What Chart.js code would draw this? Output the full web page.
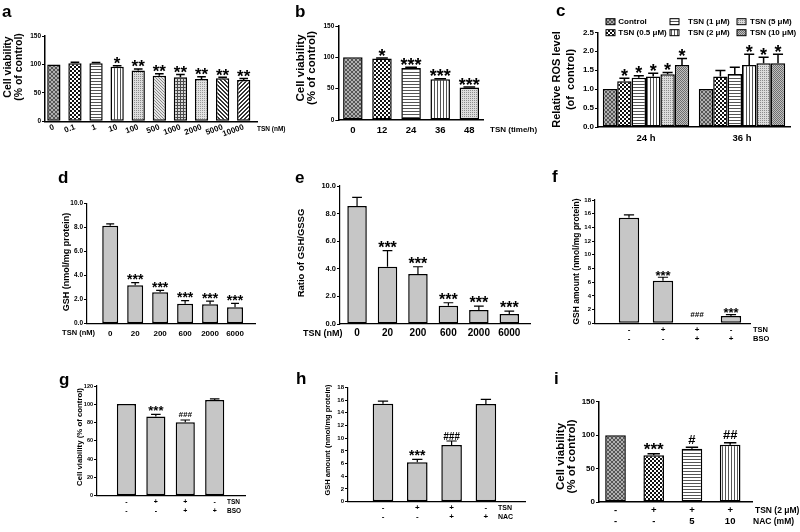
<!DOCTYPE html>
<html><head><meta charset="utf-8">
<script src="https://cdn.jsdelivr.net/npm/chart.js@4.4.1/dist/chart.umd.min.js"></script>
<style>
html,body{margin:0;padding:0;background:#fff;width:800px;height:532px;overflow:hidden;position:relative}
canvas{position:absolute}
</style></head><body>
<script>
// ---------- DATA ----------
const aLabels = ['0','0.1','1','10','100','500','1000','2000','5000','10000'];
const aValues = [100, 102, 102, 96, 89.5, 80, 77.5, 74.5, 75.5, 72.8];
const aErrors = [0, 2, 1.2, 1.8, 2.3, 3.5, 5, 4, 1.8, 2.3];
const aMarks  = ['', '', '', '*', '**', '**', '**', '**', '**', '**'];
const aYTicks = [0, 50, 100, 150];
const aYLabels = ['0', '50', '100', '150'];

const bLabels = ['0','12','24','36','48'];
const bValues = [100, 98, 83, 65, 52];
const bErrors = [0, 1, 1, 0.8, 0.8];
const bMarks  = ['', '*', '***', '***', '***'];
const bYTicks = [0, 50, 100, 150];
const bYLabels = ['0', '50', '100', '150'];

const cGroups = ['24 h', '36 h'];
const cSeries = ['Control', 'TSN (0.5 μM)', 'TSN (1 μM)', 'TSN (2 μM)', 'TSN (5 μM)', 'TSN (10 μM)'];
const cValues = [[1.0, 1.0], [1.21, 1.33], [1.30, 1.40], [1.33, 1.64], [1.39, 1.68], [1.64, 1.68]];
const cErrors = [[0, 0], [0.08, 0.16], [0.05, 0.18], [0.09, 0.28], [0.05, 0.16], [0.17, 0.24]];
const cMarks  = [['', ''], ['*', ''], ['*', ''], ['*', '*'], ['*', '*'], ['*', '*']];
const cYTicks = [0, 0.5, 1.0, 1.5, 2.0, 2.5];
const cYLabels = ['0.0', '0.5', '1.0', '1.5', '2.0', '2.5'];

const dLabels = ['0','20','200','600','2000','6000'];
const dValues = [8.14, 3.19, 2.61, 1.66, 1.61, 1.36];
const dErrors = [0.15, 0.22, 0.16, 0.25, 0.27, 0.33];
const dMarks  = ['', '***', '***', '***', '***', '***'];
const dYTicks = [0, 2, 4, 6, 8, 10];
const dYLabels = ['0.0', '2.0', '4.0', '6.0', '8.0', '10.0'];

const eLabels = ['0','20','200','600','2000','6000'];
const eValues = [8.55, 4.15, 3.62, 1.33, 1.01, 0.72];
const eErrors = [0.63, 1.16, 0.53, 0.21, 0.29, 0.22];
const eMarks  = ['', '***', '***', '***', '***', '***'];
const eYTicks = [0, 2, 4, 6, 8, 10];
const eYLabels = ['0.0', '2.0', '4.0', '6.0', '8.0', '10.0'];

const fLabels = [['-','-'], ['+','-'], ['+','+'], ['-','+']];
const fValues = [15.42, 6.22, 0, 1.07];
const fErrors = [0.4, 0.5, 0, 0.2];
const fMarks  = ['', '***', '###', '***'];
const fYTicks = [0, 2, 4, 6, 8, 10, 12, 14, 16, 18];
const fYLabels = ['0','2','4','6','8','10','12','14','16','18'];

const gLabels = [['-','-'], ['+','-'], ['+','+'], ['-','+']];
const gValues = [100.3, 86.5, 80.3, 104.7];
const gErrors = [0, 2.5, 2.5, 1.2];
const gMarks  = ['', '***', '###', ''];
const gYTicks = [0, 20, 40, 60, 80, 100, 120];
const gYLabels = ['0','20','40','60','80','100','120'];

const hLabels = [['-','-'], ['+','-'], ['+','+'], ['-','+']];
const hValues = [15.42, 6.2, 8.92, 15.37];
const hErrors = [0.4, 0.47, 0.63, 0.73];
const hMarks  = ['', '***', '###', ''];
const hYTicks = [0, 2, 4, 6, 8, 10, 12, 14, 16, 18];
const hYLabels = ['0','2','4','6','8','10','12','14','16','18'];

const iLabels = [['-','-'], ['+','-'], ['+','5'], ['+','10']];
const iValues = [100, 69.8, 79.7, 85.7];
const iErrors = [0, 2.5, 2, 3];
const iMarks  = ['', '***', '#', '##'];
const iYTicks = [0, 50, 100, 150];
const iYLabels = ['0', '50', '100', '150'];

// ---------- STYLE HELPERS ----------
const FAM = '"Liberation Sans", Arial, sans-serif';
Chart.defaults.font.family = FAM;

function tile(w, h, bg, fg, cells) {
  const cv = document.createElement('canvas'); cv.width = w; cv.height = h;
  const g = cv.getContext('2d');
  g.fillStyle = bg; g.fillRect(0, 0, w, h); g.fillStyle = fg;
  cells.forEach(([x, y, cw, ch]) => g.fillRect(x, y, cw || 1, ch || 1));
  return g.createPattern(cv, 'repeat');
}
const PT = {
  dark:   tile(4,4,'#b0b0b0','#555',[[0,0],[3,0],[1,1],[2,1],[2,2],[1,2],[3,3],[0,3]]),
  checker:tile(4,4,'#fff','#111',[[0,0,2,2],[2,2,2,2]]),
  hlines: tile(3,3,'#fff','#555',[[0,0,3,1]]),
  vlines: tile(3,3,'#fff','#555',[[0,0,1,3]]),
  light:  tile(2,2,'#dcdcdc','#8c8c8c',[[0,0]]),
  medium: tile(2,2,'#c0c0c0','#6e6e6e',[[0,0],[1,1]]),
  diagf:  tile(3,3,'#e4e4e4','#8a8a8a',[[0,0],[1,1],[2,2]]),
  grid:   tile(3,3,'#d8d8d8','#4a4a4a',[[0,0,3,1],[0,0,1,3]]),
  dots:   tile(2,2,'#e2e2e2','#9a9a9a',[[0,0]]),
  bslash: tile(4,4,'#fff','#333',[[0,0],[1,0],[1,1],[2,1],[2,2],[3,2],[3,3],[0,3]]),
  fslash: tile(4,4,'#fff','#333',[[3,0],[2,0],[2,1],[1,1],[1,2],[0,2],[0,3],[3,3]])
};
const GRAY = '#c6c6c6';

function drawTxt(ctx, t, p) {
  ctx.save();
  ctx.font = (t.style ? t.style + ' ' : '') + 'bold ' + t.fs + 'px ' + FAM;
  ctx.fillStyle = '#000';
  ctx.textAlign = t.align || 'left';
  ctx.textBaseline = t.base || 'middle';
  ctx.translate(t.x - p.L, t.y - p.T);
  if (t.rot) ctx.rotate(t.rot * Math.PI / 180);
  ctx.fillText(t.t, 0, 0);
  ctx.restore();
}

function decoPlugin(p) {
  return {
    id: 'deco_' + p.id,
    afterDatasetsDraw(chart) {
      const ctx = chart.ctx, ys = chart.scales.y;
      ctx.save();
      p.series.forEach((s, di) => {
        const meta = chart.getDatasetMeta(di);
        meta.data.forEach((bar, i) => {
          const v = s.values[i], e = s.errors[i];
          const yv = ys.getPixelForValue(v), yt = ys.getPixelForValue(v + e);
          if (e > 0) {
            const hw = bar.width * p.cap / 2;
            ctx.beginPath();
            ctx.moveTo(bar.x, yv); ctx.lineTo(bar.x, yt);
            ctx.moveTo(bar.x - hw, yt); ctx.lineTo(bar.x + hw, yt);
            ctx.lineWidth = p.errW; ctx.strokeStyle = '#000'; ctx.stroke();
          }
          const m = s.marks[i];
          if (m) {
            const star = m[0] === '*';
            const fs = star ? p.starFs : p.hashFs;
            const gap = star ? p.starGap : p.hashGap;
            ctx.font = ((!star && p.hashItalic) ? 'italic ' : '') + 'bold ' + fs + 'px ' + FAM;
            ctx.fillStyle = '#000'; ctx.textAlign = 'center'; ctx.textBaseline = 'alphabetic';
            ctx.fillText(m, bar.x, yt - gap + (star ? 0.55 : 0.36) * fs);
          }
        });
      });
      (p.legend || []).forEach(it => {
        ctx.fillStyle = it.fill;
        ctx.fillRect(it.bx - p.L, it.y - p.T - 3, 9, 6);
        ctx.lineWidth = 1; ctx.strokeStyle = '#000';
        ctx.strokeRect(it.bx - p.L, it.y - p.T - 3, 9, 6);
        drawTxt(ctx, {t: it.name, x: it.tx, y: it.y, fs: 8}, p);
      });
      (p.texts || []).forEach(t => drawTxt(ctx, t, p));
      ctx.restore();
    }
  };
}

function buildPanel(p) {
  const c = document.createElement('canvas');
  c.width = p.W; c.height = p.H;
  Object.assign(c.style, {left: p.L + 'px', top: p.T + 'px', width: p.W + 'px', height: p.H + 'px'});
  document.body.appendChild(c);
  const [x0, y0, x1, y1] = p.area;
  const yW = x0 - p.L, xH = p.T + p.H - y1;
  const cat = p.xType === 'category';
  const xScale = {
    type: cat ? 'category' : 'linear',
    offset: cat,
    grid: {display: false, drawTicks: false},
    border: {display: true, color: '#000', width: p.axW},
    afterFit: s => { s.height = xH; },
    ticks: {font: {family: FAM, size: p.xFs, weight: 'bold', lineHeight: p.xLh || 1.2}, color: '#000',
            padding: p.xPad, autoSkip: false, maxRotation: p.xRot || 0, minRotation: p.xRot || 0}
  };
  if (!cat) {
    xScale.min = p.xmin; xScale.max = p.xmax;
    xScale.afterBuildTicks = s => { s.ticks = p.xLabels.map((_, i) => ({value: i})); };
    xScale.ticks.callback = (v) => p.xLabels[v];
  }
  const yScale = {
    type: 'linear',
    min: p.yTicks[0], max: p.yTicks[p.yTicks.length - 1],
    afterBuildTicks: s => { s.ticks = p.yTicks.map(v => ({value: v})); },
    afterFit: s => { s.width = yW; },
    grid: {display: true, drawOnChartArea: false, drawTicks: true, tickLength: 3, color: '#000', lineWidth: 1},
    border: {display: true, color: '#000', width: p.axW},
    ticks: {font: {family: FAM, size: p.yFs, weight: 'bold'}, color: '#000', padding: 1, autoSkip: false,
            callback: (v, i) => p.yLabels[i]}
  };
  const datasets = p.series.map(s => ({
    label: s.name || '',
    data: cat ? s.values : s.values.map((v, i) => ({x: i, y: v})),
    backgroundColor: s.fills,
    borderColor: '#000',
    borderWidth: p.bw || 1.5,
    borderSkipped: false,
    barPercentage: p.barPct,
    categoryPercentage: p.catPct || 1
  }));
  new Chart(c, {
    type: 'bar',
    data: cat ? {labels: p.xLabels, datasets} : {datasets},
    options: {
      responsive: false, animation: false, devicePixelRatio: 1,
      layout: {padding: {left: 0, top: y0 - p.T, right: p.L + p.W - x1, bottom: 0}},
      plugins: {legend: {display: false}, tooltip: {enabled: false}},
      scales: {x: xScale, y: yScale}
    },
    plugins: [decoPlugin(p)]
  });
}

const rot = -90;
// ---------- PANELS ----------
buildPanel({id:'a', L:0, T:0, W:300, H:160, area:[45, 36, 257, 121.3],
  xmin:-0.42, xmax:9.63, xLabels:aLabels, xFs:8, xRot:20, xPad:1,
  yTicks:aYTicks, yLabels:aYLabels, yFs:6.5, axW:1.5, barPct:0.63, cap:0.65, errW:1.5,
  starFs:17, starGap:6,
  series:[{values:aValues, errors:aErrors, marks:aMarks,
    fills:[PT.dark, PT.checker, PT.hlines, PT.vlines, PT.light, PT.diagf, PT.grid, PT.dots, PT.bslash, PT.fslash]}],
  texts:[{t:'a', x:2, y:16.5, fs:17, base:'alphabetic'},
    {t:'Cell viability', x:8.5, y:67, fs:10.5, rot, align:'center'},
    {t:'(% of control)', x:19.5, y:67, fs:10.5, rot, align:'center'},
    {t:'TSN (nM)', x:257, y:129, fs:6.5}]});

buildPanel({id:'b', L:260, T:0, W:285, H:160, area:[338.3, 26, 483, 120],
  xmin:-0.5, xmax:4.47, xLabels:bLabels, xFs:9.5, xPad:4.3,
  yTicks:bYTicks, yLabels:bYLabels, yFs:6.5, axW:1.5, barPct:0.67, cap:0.6, errW:1.5,
  starFs:18, starGap:6.3,
  series:[{values:bValues, errors:bErrors, marks:bMarks,
    fills:[PT.dark, PT.checker, PT.hlines, PT.vlines, PT.light]}],
  texts:[{t:'b', x:295, y:17, fs:17, base:'alphabetic'},
    {t:'Cell viability', x:301, y:68, fs:11.5, rot, align:'center'},
    {t:'(% of control)', x:311.5, y:68, fs:11.5, rot, align:'center'},
    {t:'TSN (time/h)', x:490, y:130, fs:8}]});

const cFills = [PT.dark, PT.checker, PT.hlines, PT.vlines, PT.light, PT.medium];
const cBoxX = [606, 670, 737], cTxtX = [618.3, 688, 750], cRowY = [21.7, 32.7];
buildPanel({id:'c', L:530, T:0, W:270, H:160, area:[598, 32.3, 790, 127],
  xType:'category', xLabels:cGroups, xFs:9.5, xPad:5.6,
  yTicks:cYTicks, yLabels:cYLabels, yFs:8, axW:1.5, barPct:1, catPct:0.9, cap:0.7, errW:1.5,
  starFs:18, starGap:6.4,
  series:cSeries.map((n, k) => ({name:n, values:cValues[k], errors:cErrors[k], marks:cMarks[k], fills:cFills[k]})),
  legend:cSeries.map((n, k) => ({name:n, fill:cFills[k], bx:cBoxX[Math.floor(k/2)], tx:cTxtX[Math.floor(k/2)], y:cRowY[k%2]})),
  texts:[{t:'c', x:556, y:16, fs:17, base:'alphabetic'},
    {t:'Relative ROS level', x:557, y:79.5, fs:11, rot, align:'center'},
    {t:'(of  control)', x:571, y:79.5, fs:11, rot, align:'center'}]});

buildPanel({id:'d', L:0, T:165, W:270, H:190, area:[87, 203.3, 255, 323.7],
  xmin:-0.93, xmax:5.8, xLabels:dLabels, xFs:8, xPad:4.8,
  yTicks:dYTicks, yLabels:dYLabels, yFs:6.5, axW:1.2, barPct:0.64, cap:0.5, errW:1.2,
  starFs:14, starGap:6,
  series:[{values:dValues, errors:dErrors, marks:dMarks, fills:GRAY}],
  texts:[{t:'d', x:58, y:183, fs:17, base:'alphabetic'},
    {t:'GSH (nmol/mg protein)', x:66.7, y:262, fs:9, rot, align:'center'},
    {t:'TSN (nM)', x:95, y:333.3, fs:7.5, align:'right'}]});

buildPanel({id:'e', L:260, T:165, W:280, H:190, area:[340, 186, 530, 324],
  xmin:-0.56, xmax:5.68, xLabels:eLabels, xFs:10, xPad:3.3,
  yTicks:eYTicks, yLabels:eYLabels, yFs:7.5, axW:1.2, barPct:0.64, cap:0.5, errW:1.2,
  starFs:16, starGap:6.7,
  series:[{values:eValues, errors:eErrors, marks:eMarks, fills:GRAY}],
  texts:[{t:'e', x:295, y:183, fs:17, base:'alphabetic'},
    {t:'Ratio of GSH/GSSG', x:301.7, y:253, fs:9.5, rot, align:'center'},
    {t:'TSN (nM)', x:303, y:333.3, fs:9}]});

buildPanel({id:'f', L:530, T:165, W:270, H:190, area:[595, 200, 750, 323.3],
  xmin:-1, xmax:3.56, xLabels:fLabels, xFs:8, xLh:'9px', xPad:2.2,
  yTicks:fYTicks, yLabels:fYLabels, yFs:6, axW:1.2, barPct:0.6, cap:0.5, errW:1.2,
  starFs:13, starGap:4.5, hashFs:8, hashGap:9, hashItalic:true,
  series:[{values:fValues, errors:fErrors, marks:fMarks, fills:GRAY}],
  texts:[{t:'f', x:552, y:182, fs:17, base:'alphabetic'},
    {t:'GSH amount (nmol/mg protein)', x:576.7, y:261.5, fs:8.5, rot, align:'center'},
    {t:'TSN', x:753, y:330, fs:7.5}, {t:'BSO', x:753, y:339, fs:7.5}]});

buildPanel({id:'g', L:0, T:360, W:270, H:172, area:[97, 386, 245, 495.7],
  xmin:-1, xmax:4.03, xLabels:gLabels, xFs:7, xLh:'9px', xPad:1.8,
  yTicks:gYTicks, yLabels:gYLabels, yFs:5.5, axW:1.2, barPct:0.65, cap:0.5, errW:1.2,
  starFs:13, starGap:6, hashFs:8, hashGap:6, hashItalic:true,
  series:[{values:gValues, errors:gErrors, marks:gMarks, fills:GRAY}],
  texts:[{t:'g', x:59, y:385, fs:17, base:'alphabetic'},
    {t:'Cell viability (% of control)', x:80, y:437, fs:7.8, rot, align:'center'},
    {t:'TSN', x:227, y:502, fs:6.5}, {t:'BSO', x:227, y:511, fs:6.5}]});

buildPanel({id:'h', L:260, T:360, W:280, H:172, area:[348, 387.3, 525, 501.7],
  xmin:-1.02, xmax:4.14, xLabels:hLabels, xFs:8, xLh:'9px', xPad:1.5,
  yTicks:hYTicks, yLabels:hYLabels, yFs:6, axW:1.2, barPct:0.6, cap:0.5, errW:1.2,
  starFs:14, starGap:7, hashFs:10, hashGap:5, hashItalic:true,
  series:[{values:hValues, errors:hErrors, marks:hMarks, fills:GRAY}],
  texts:[{t:'h', x:296, y:384, fs:17, base:'alphabetic'},
    {t:'GSH amount (nmol/mg protein)', x:328.3, y:440, fs:7.5, rot, align:'center'},
    {t:'TSN', x:498, y:507.7, fs:7}, {t:'NAC', x:498, y:516.7, fs:7}]});

buildPanel({id:'i', L:530, T:360, W:270, H:172, area:[599, 401.7, 752.7, 502],
  xmin:-0.432, xmax:3.59, xLabels:iLabels, xFs:9.5, xLh:'11px', xPad:3.2,
  yTicks:iYTicks, yLabels:iYLabels, yFs:8, axW:1.5, barPct:0.54, cap:0.6, errW:1.5,
  starFs:17, starGap:8.5, hashFs:13, hashGap:8.5,
  series:[{values:iValues, errors:iErrors, marks:iMarks, fills:[PT.dark, PT.checker, PT.hlines, PT.vlines]}],
  texts:[{t:'i', x:554, y:384, fs:17, base:'alphabetic'},
    {t:'Cell viability', x:560.5, y:456.5, fs:11.5, rot, align:'center'},
    {t:'(% of control)', x:571.5, y:456.5, fs:11.5, rot, align:'center'},
    {t:'TSN (2 μM)', x:755, y:510.7, fs:8.5}, {t:'NAC (mM)', x:753, y:521.7, fs:8.5}]});
</script>
</body></html>
